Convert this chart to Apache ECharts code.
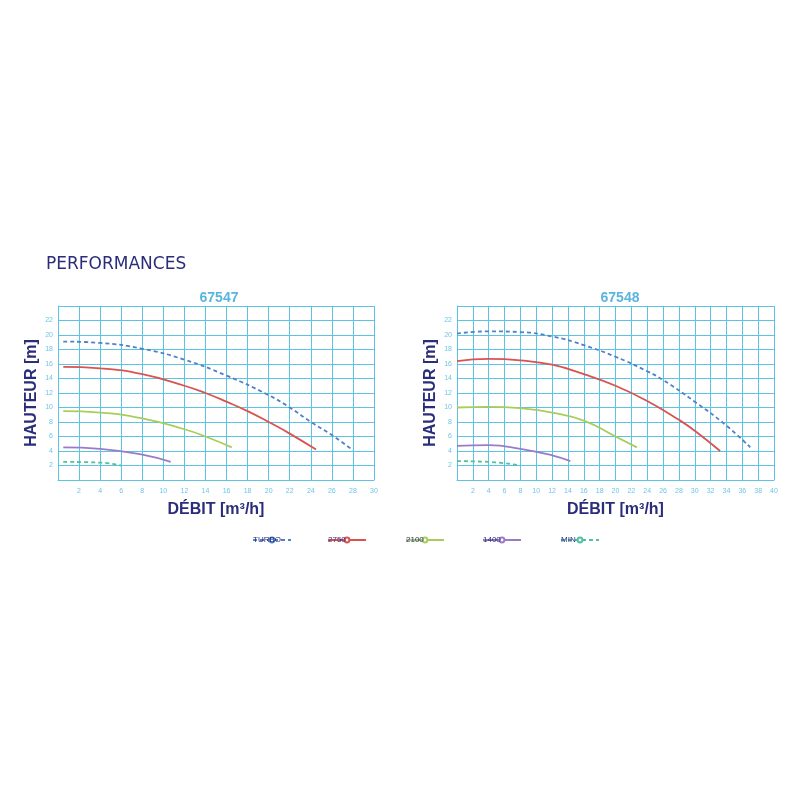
<!DOCTYPE html>
<html><head><meta charset="utf-8">
<script src="https://cdn.jsdelivr.net/npm/echarts@6/dist/echarts.min.js"></script>
<style>html,body{margin:0;background:#fff}#c{width:800px;height:800px}</style>
</head><body><div id="c"></div>
<script>
const names = ['TURBO', '2750', '2100', '1400', 'MIN'];
const colors = ['#4f82c6', '#d9534f', '#a8cd5c', '#9a7cc6', '#4fc0a0'];
const dashed = [true, false, false, false, true];

// 67547
const left = [
  [[0.5,19.1],[4,18.9],[8,18.1],[12,16.6],[16,14.4],[20,11.7],[22,10],[24,8],[26,6.2],[28,4.1]],
  [[0.5,15.6],[4,15.4],[8,14.6],[12,13],[14,12],[16,10.8],[18,9.5],[20,8],[22,6.4],[24.5,4.2]],
  [[0.5,9.5],[4,9.3],[8,8.5],[12,7],[14,6],[16.5,4.5]],
  [[0.5,4.5],[4,4.3],[8,3.5],[10.7,2.5]],
  [[0.5,2.5],[4,2.4],[6,2.0]]
];
// 67548
const right = [
  [[0,20.2],[4,20.5],[8,20.4],[12,19.8],[16,18.6],[20,17],[24,15],[26,13.8],[30,10.8],[34,7.5],[37,4.5]],
  [[0,16.4],[4,16.7],[8,16.5],[12,15.9],[16,14.6],[20,13],[24,10.9],[28,8.3],[30,6.8],[33.2,4]],
  [[0,10],[4,10.1],[8,9.9],[12,9.3],[16,8.2],[20,6],[22.7,4.5]],
  [[0,4.7],[4,4.8],[8,4.3],[12,3.4],[14.3,2.6]],
  [[0,2.6],[4,2.5],[8,2.0]]
];
const xMax = [30, 40];

const gridLine = { show: true, lineStyle: { color: '#5cc3e4', width: 1 } };
const label = { color: '#6cc6e6', fontSize: 7 };
const nameStyle = { color: '#2b2d7a', fontWeight: 'bold', fontSize: 16, fontFamily: 'Liberation Sans' };
const grids = [
  { left: 58, top: 306, width: 316, height: 174 },
  { left: 457, top: 306, width: 317, height: 174 }
];
const xAxis = xMax.map((m, i) => ({
  gridIndex: i, type: 'value', min: 0, max: m, interval: 2,
  name: 'DÉBIT [m³/h]', nameLocation: 'middle', nameGap: 22, nameTextStyle: nameStyle,
  axisLine: { show: true, lineStyle: { color: '#5cc3e4' } }, axisTick: { show: false },
  axisLabel: { ...label, formatter: v => v === 0 ? '' : v },
  splitLine: gridLine
}));
const yAxis = xMax.map((m, i) => ({
  gridIndex: i, type: 'value', min: 0, max: 24, interval: 2,
  name: 'HAUTEUR [m]', nameLocation: 'middle', nameGap: 18, nameTextStyle: nameStyle,
  axisLine: { show: true, lineStyle: { color: '#5cc3e4' } }, axisTick: { show: false },
  axisLabel: { ...label, margin: 5, formatter: v => (v === 0 || v === 24) ? '' : v },
  splitLine: gridLine
}));
const series = [];
[left, right].forEach((set, gi) => set.forEach((d, k) => series.push({
  type: 'line', name: names[k], xAxisIndex: gi, yAxisIndex: gi, data: d,
  smooth: true, showSymbol: false, silent: true,
  lineStyle: { color: colors[k], width: 1.8, type: dashed[k] ? [4, 3] : 'solid' },
  itemStyle: { color: colors[k] }
})));

const legendX = [247, 322, 400, 477, 555];
const legends = names.map((n, k) => ({
  data: [n], left: legendX[k], top: 531, itemWidth: 38, itemHeight: 6, itemGap: 0,
  selectedMode: false, orient: 'vertical',
  textStyle: { color: '#2b2d7a', fontSize: 8, padding: [16, 0, 0, -43], width: 38, align: 'center' }
}));

const chart = echarts.init(document.getElementById('c'));
chart.setOption({
  animation: false,
  title: [
    { text: 'PERFORMANCES', left: 41, top: 251, textStyle: { color: '#2b2d7a', fontSize: 17, fontWeight: 'normal', fontFamily: 'DejaVu Sans' } },
    { text: '67547', left: 214, top: 286, textAlign: 'center', textStyle: { color: '#5ab4e0', fontSize: 14, fontWeight: 'bold', fontFamily: 'Liberation Sans' } },
    { text: '67548', left: 615, top: 286, textAlign: 'center', textStyle: { color: '#5ab4e0', fontSize: 14, fontWeight: 'bold', fontFamily: 'Liberation Sans' } }
  ],
  legend: legends,
  grid: grids, xAxis, yAxis, series
});
</script></body></html>
